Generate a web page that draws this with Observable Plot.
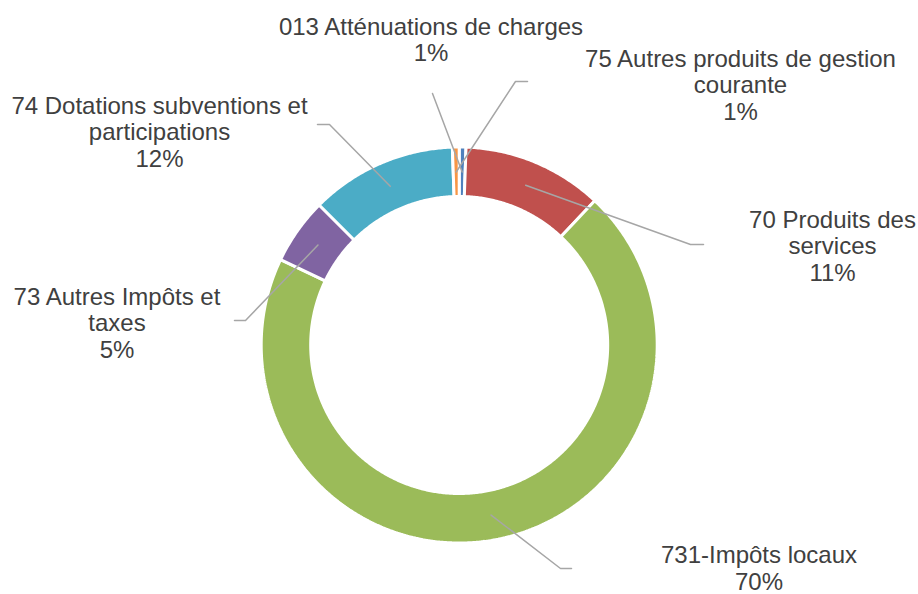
<!DOCTYPE html>
<html>
<head>
<meta charset="utf-8">
<script src="https://cdn.jsdelivr.net/npm/d3@7"></script>
<script src="https://cdn.jsdelivr.net/npm/@observablehq/plot@0.6"></script>
<style>
  html, body { margin: 0; padding: 0; background: #fff; }
  #chart svg { display: block; }
</style>
</head>
<body>
<div id="chart"></div>
<script>
// ---- data ----
const categories = [
  "013 Atténuations de charges",
  "70 Produits des services",
  "731-Impôts locaux",
  "73 Autres Impôts et taxes",
  "74 Dotations subventions et participations",
  "75 Autres produits de gestion courante"
];
const values = [0.55, 11.45, 70.1, 5.4, 11.95, 0.55];
const colors = ["#4F81BD", "#C0504D", "#9BBB59", "#8064A2", "#4BACC6", "#F79646"];

// ---- layout (positions in pixel units of the x/y scales) ----
const W = 918, H = 594;
const center = {x: 458.7, y: 344.5};
const outerR = 198, innerR = 148.5, leaderR = 173;
// label wrapping and placement; leader elbow and end points
const labelLayout = [
  {lines: ["013 Atténuations de charges"], x: 430.5, y: 15, path: [[432, 93]]},
  {lines: ["70 Produits des", "services"], x: 832, y: 208, path: [[690, 244], [703, 244]]},
  {lines: ["731-Impôts locaux"], x: 758.5, y: 543.5, path: [[560, 568], [571, 568]]},
  {lines: ["73 Autres Impôts et", "taxes"], x: 116.5, y: 285, path: [[245, 320], [234, 320]]},
  {lines: ["74 Dotations subventions et", "participations"], x: 159, y: 94, path: [[329, 124], [317, 124]]},
  {lines: ["75 Autres produits de gestion", "courante"], x: 740, y: 47, path: [[515, 81], [527, 81]]}
];

// ---- build slices with d3.pie ----
const total = d3.sum(values);
const pie = d3.pie().sort(null).value(d => d.value)(categories.map((c, i) => ({cat: c, value: values[i]})));
const pt = (a, r) => ({x: center.x + r * Math.sin(a), y: center.y - r * Math.cos(a)});

const ringPoints = [];
pie.forEach(s => {
  const n = Math.max(2, Math.ceil((s.endAngle - s.startAngle) * 180 / Math.PI * 2));
  for (let k = 0; k <= n; k++) {
    const a = s.startAngle + (s.endAngle - s.startAngle) * k / n;
    ringPoints.push({cat: s.data.cat, ...pt(a, outerR)});
  }
  for (let k = n; k >= 0; k--) {
    const a = s.startAngle + (s.endAngle - s.startAngle) * k / n;
    ringPoints.push({cat: s.data.cat, ...pt(a, innerR)});
  }
});

// leader lines: from slice mid-angle to label elbow/end
const leaderPoints = [];
pie.forEach((s, i) => {
  const mid = (s.startAngle + s.endAngle) / 2;
  leaderPoints.push({cat: s.data.cat, ...pt(mid, leaderR)});
  labelLayout[i].path.forEach(p => leaderPoints.push({cat: s.data.cat, x: p[0], y: p[1]}));
});

// labels
const labelRows = pie.map((s, i) => ({
  x: labelLayout[i].x,
  y: labelLayout[i].y,
  text: [...labelLayout[i].lines, Math.round(s.data.value / total * 100) + "%"].join("\n")
}));

const chart = Plot.plot({
  width: W,
  height: H,
  margin: 0,
  style: {background: "#fff"},
  x: {domain: [0, W], range: [0, W], axis: null},
  y: {domain: [0, H], range: [0, H], axis: null},
  color: {domain: categories, range: colors},
  marks: [
    Plot.line(ringPoints, {
      x: "x", y: "y", z: "cat", fill: "cat",
      stroke: "#ffffff", strokeWidth: 3, strokeLinejoin: "miter",
      curve: "linear-closed"
    }),
    Plot.line(leaderPoints, {
      x: "x", y: "y", z: "cat",
      stroke: "#A6A6A6", strokeWidth: 1.5
    }),
    Plot.text(labelRows, {
      x: "x", y: "y", text: "text",
      textAnchor: "middle", lineAnchor: "top", lineHeight: 1.12,
      fontSize: 24, fill: "#404040",
      fontFamily: "'Liberation Sans', Arial, sans-serif"
    })
  ]
});
document.getElementById("chart").appendChild(chart);
</script>
</body>
</html>
